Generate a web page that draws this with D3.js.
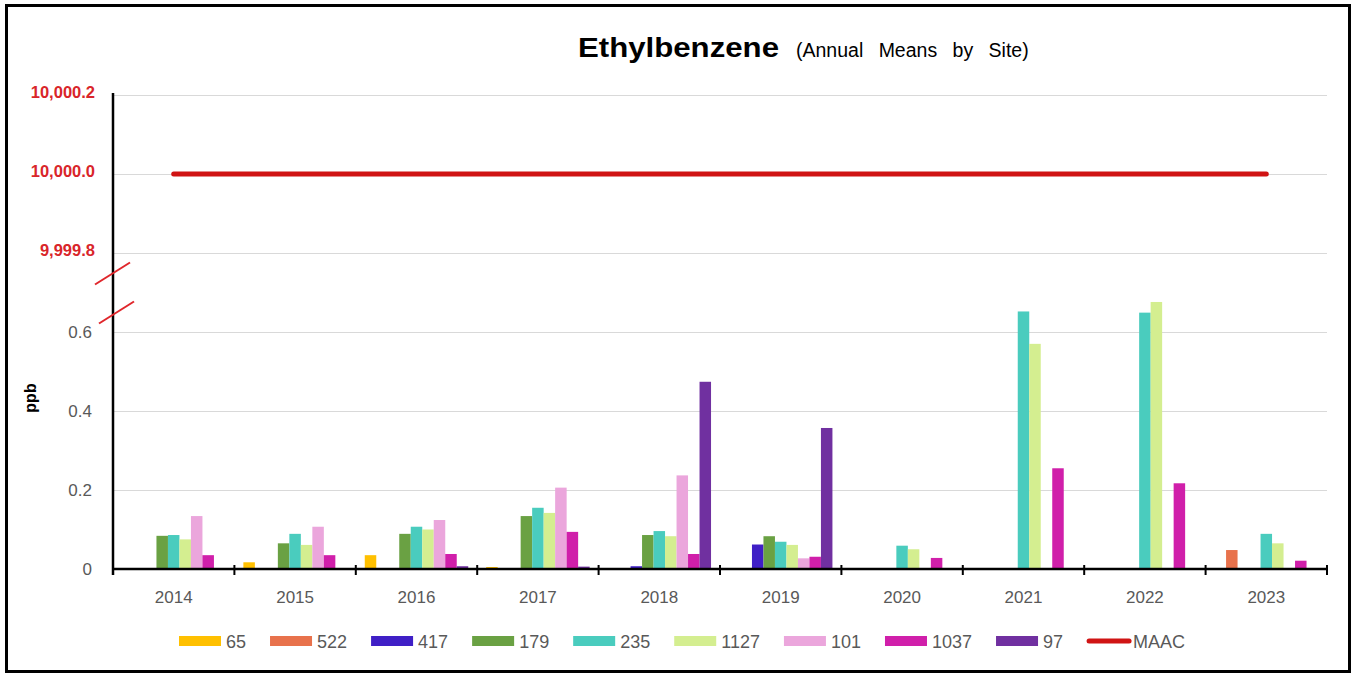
<!DOCTYPE html>
<html>
<head>
<meta charset="utf-8">
<script src="https://cdn.jsdelivr.net/npm/d3@7"></script>
<style>
  html, body { margin: 0; padding: 0; background: #fff; }
  svg { display: block; }
  text { font-family: "Liberation Sans", Arial, sans-serif; }
</style>
</head>
<body>
<svg id="chart" width="1354" height="674"></svg>
<script>
// ---------- DATA ----------
const years = ["2014","2015","2016","2017","2018","2019","2020","2021","2022","2023"];
const sites = ["65","522","417","179","235","1127","101","1037","97"];
const siteColors = ["#FFC000","#E8724C","#3F1FC6","#6AA143","#4ACCBE","#D4EE90","#EBA6DC","#D01FAA","#7030A0"];

// values per site, one per year (null = no bar)
const s65   = [null, 0.017, 0.035, 0.005, null, null, null, null, null, null];
const s522  = [null, null, null, null, null, null, null, null, null, 0.048];
const s417  = [null, null, null, null, 0.007, 0.062, null, null, null, null];
const s179  = [0.084, 0.065, 0.089, 0.134, 0.086, 0.083, null, null, null, null];
const s235  = [0.086, 0.089, 0.107, 0.155, 0.096, 0.069, 0.059, 0.652, 0.649, 0.089];
const s1127 = [0.075, 0.061, 0.100, 0.142, 0.083, 0.061, 0.050, 0.570, 0.676, 0.065];
const s101  = [0.134, 0.107, 0.124, 0.206, 0.237, 0.027, null, null, null, null];
const s1037 = [0.035, 0.035, 0.038, 0.094, 0.038, 0.031, 0.028, 0.255, 0.217, 0.021];
const s97   = [null, null, 0.007, 0.006, 0.474, 0.357, null, null, null, null];
const seriesValues = [s65, s522, s417, s179, s235, s1127, s101, s1037, s97];

const maacValue = 10000;
const maacYears = ["2014","2023"];

const lowTicks = [0, 0.2, 0.4, 0.6];
const highTicks = [9999.8, 10000.0, 10000.2];
const lowTickLabels = ["0", "0.2", "0.4", "0.6"];
const highTickLabels = ["9,999.8", "10,000.0", "10,000.2"];

// ---------- LAYOUT ----------
const svg = d3.select("#chart");
const pLeft = 113, pRight = 1327, pBottom = 569, pTop = 95;

// broken axis: lower part runs linearly up to 0.8, which coincides with 9,999.8
const y = d3.scaleLinear()
  .domain([0, 0.8, 9999.8, 10000.2])
  .range([pBottom, 253, 253, pTop]);

const x = d3.scaleBand().domain(years).range([pLeft, pRight]).paddingInner(0).paddingOuter(0);
const xs = d3.scaleBand().domain(sites).range([0, x.bandwidth()]).paddingInner(0).paddingOuter(0.78);

// frame
svg.append("rect").attr("x", 6.5).attr("y", 5.5).attr("width", 1343).attr("height", 666)
  .attr("fill", "#fff").attr("stroke", "#000").attr("stroke-width", 3);

// gridlines
const allTicks = lowTicks.concat(highTicks);
svg.append("g").selectAll("line").data(allTicks.filter(d => d !== 0)).join("line")
  .attr("x1", pLeft).attr("x2", pRight)
  .attr("y1", d => Math.round(y(d)) + 0.5).attr("y2", d => Math.round(y(d)) + 0.5)
  .attr("stroke", "#d9d9d9").attr("stroke-width", 1);

// tick labels
svg.append("g").selectAll("text").data(lowTicks).join("text")
  .attr("x", 92).attr("y", d => y(d) + 6)
  .attr("text-anchor", "end").attr("font-size", 17).attr("fill", "#595959")
  .text((d, i) => lowTickLabels[i]);
svg.append("g").selectAll("text").data(highTicks).join("text")
  .attr("x", 95).attr("y", d => y(d) + 3)
  .attr("text-anchor", "end").attr("font-size", 16.5).attr("font-weight", "bold").attr("fill", "#D9252A")
  .text((d, i) => highTickLabels[i]);

// bars
const barData = [];
seriesValues.forEach((vals, si) => {
  vals.forEach((v, yi) => {
    if (v !== null) barData.push({site: sites[si], year: years[yi], value: v, color: siteColors[si]});
  });
});
svg.append("g").selectAll("rect").data(barData).join("rect")
  .attr("x", d => x(d.year) + xs(d.site))
  .attr("width", xs.bandwidth())
  .attr("y", d => y(d.value))
  .attr("height", d => y(0) - y(d.value))
  .attr("fill", d => d.color);

// MAAC line
const line = d3.line().x(d => x(d) + x.bandwidth() / 2).y(() => y(maacValue));
svg.append("path").datum(maacYears).attr("d", line)
  .attr("fill", "none").attr("stroke", "#D01414").attr("stroke-width", 5).attr("stroke-linecap", "round");

// x axis
svg.append("line").attr("x1", pLeft).attr("x2", pRight).attr("y1", pBottom).attr("y2", pBottom)
  .attr("stroke", "#000").attr("stroke-width", 2.5);
const boundaries = years.map(d => x(d)).concat([pRight]);
svg.append("g").selectAll("line").data(boundaries).join("line")
  .attr("x1", d => d).attr("x2", d => d).attr("y1", pBottom - 4).attr("y2", pBottom + 6)
  .attr("stroke", "#000").attr("stroke-width", 2);
svg.append("g").selectAll("text").data(years).join("text")
  .attr("x", d => x(d) + x.bandwidth() / 2).attr("y", 603)
  .attr("text-anchor", "middle").attr("font-size", 17).attr("fill", "#595959")
  .text(d => d);

// y axis
svg.append("line").attr("x1", pLeft).attr("x2", pLeft).attr("y1", pTop - 2).attr("y2", pBottom + 6)
  .attr("stroke", "#000").attr("stroke-width", 2.5);

// break marks
const brkMid = (y(0.6) + y(9999.8)) / 2;
[[pLeft - 1, brkMid - 19], [pLeft + 3, brkMid + 20]].forEach(([cx, cy]) => {
  svg.append("line").attr("x1", cx - 17).attr("y1", cy + 11).attr("x2", cx + 18).attr("y2", cy - 11)
    .attr("stroke", "#E0262B").attr("stroke-width", 2);
});

// y title
svg.append("text").attr("transform", "translate(36,398) rotate(-90)")
  .attr("text-anchor", "middle").attr("font-size", 16).attr("font-weight", "bold").attr("fill", "#000")
  .text("ppb");

// title
svg.append("text").attr("x", 578).attr("y", 57)
  .attr("font-size", 27.5).attr("font-weight", "bold").attr("fill", "#000")
  .attr("textLength", 201).attr("lengthAdjust", "spacingAndGlyphs")
  .text("Ethylbenzene");
svg.append("text").attr("x", 796).attr("y", 57)
  .attr("font-size", 19.5).attr("fill", "#000").attr("word-spacing", 10)
  .text("(Annual Means by Site)");

// legend
const legend = svg.append("g");
let lx = 179;
const ly = 641;
sites.forEach((s, i) => {
  legend.append("rect").attr("x", lx).attr("y", ly - 5).attr("width", 42).attr("height", 10).attr("fill", siteColors[i]);
  const t = legend.append("text").attr("x", lx + 47).attr("y", ly + 6.5)
    .attr("font-size", 18).attr("fill", "#595959").text(s);
  lx += 47 + t.node().getComputedTextLength() + 24;
});
legend.append("line").attr("x1", lx + 2).attr("x2", lx + 42).attr("y1", ly).attr("y2", ly)
  .attr("stroke", "#D01414").attr("stroke-width", 5).attr("stroke-linecap", "round");
legend.append("text").attr("x", lx + 46).attr("y", ly + 6.5)
  .attr("font-size", 18).attr("fill", "#595959").text("MAAC");
</script>
</body>
</html>
